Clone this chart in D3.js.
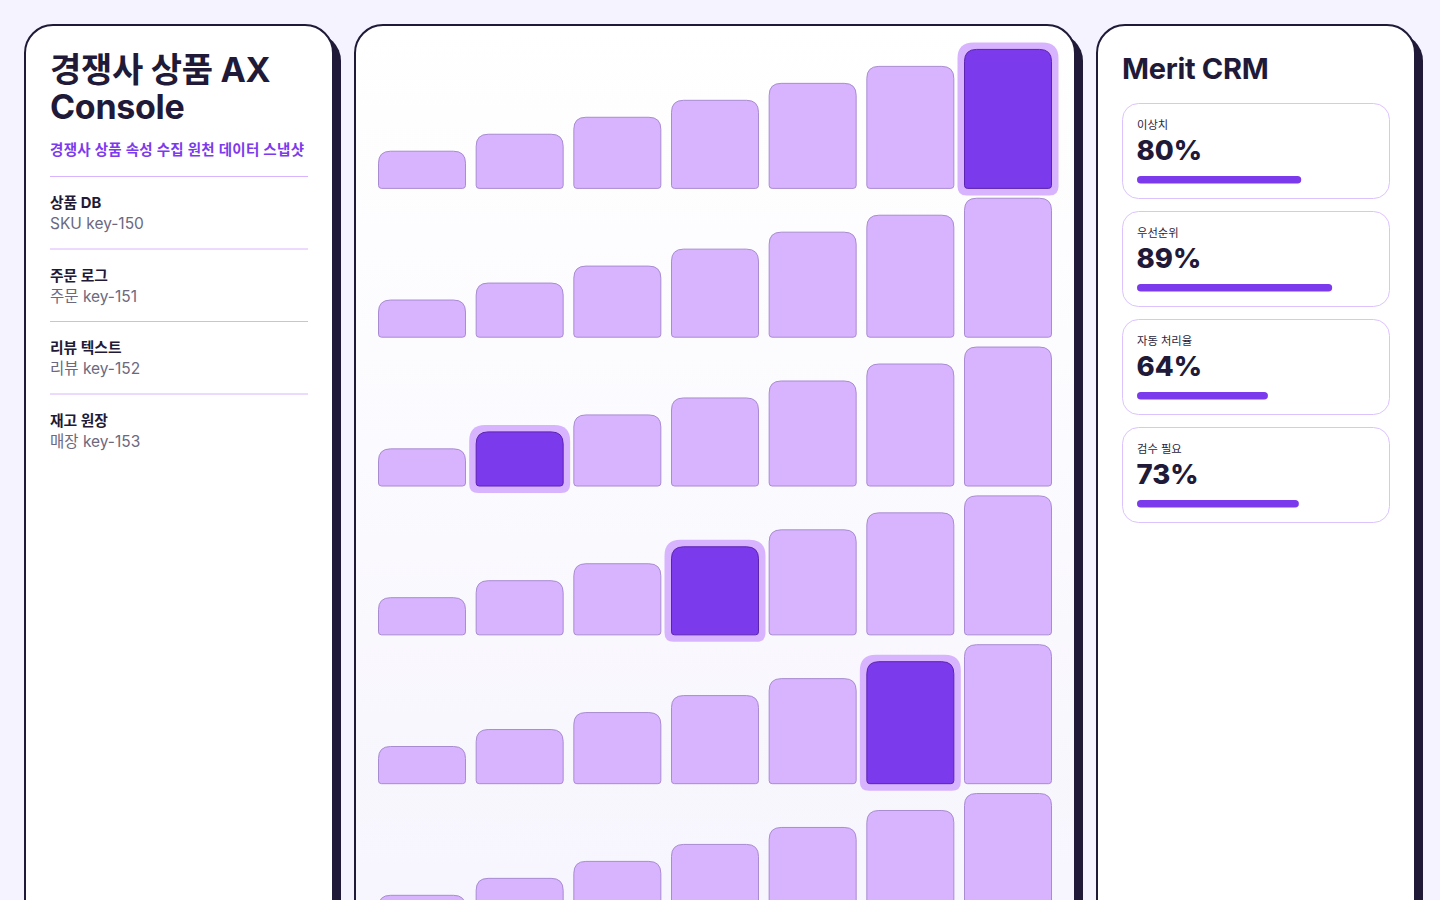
<!DOCTYPE html>
<html lang="ko">
<head>
<meta charset="utf-8">
<title>경쟁사 상품 AX Console</title>
<script src="https://cdn.jsdelivr.net/npm/d3@7"></script>
<style>
  html, body { margin: 0; padding: 0; background: #f5f3ff; overflow: hidden; }
  svg { display: block; font-family: "Inter", "Noto Sans CJK KR", sans-serif; }
</style>
</head>
<body>
<div id="chart"></div>
<script>
// ---- data ----
const titleLines = ["경쟁사 상품 AX", "Console"];
const subtitle = "경쟁사 상품 속성 수집 원천 데이터 스냅샷";
const sourceNames = ["상품 DB", "주문 로그", "리뷰 텍스트", "재고 원장"];
const sourceKeys = ["SKU key-150", "주문 key-151", "리뷰 key-152", "매장 key-153"];

const columns = ["c1", "c2", "c3", "c4", "c5", "c6", "c7"];
const rows = ["r1", "r2", "r3", "r4", "r5", "r6"];
const levels = [27, 39, 51, 63, 75, 87, 99];   // bar height (%) per column, same in every row
const highlights = [[0, 6], [2, 1], [3, 3], [4, 5]]; // [row, column]

const crmTitle = "Merit CRM";
const metricNames = ["이상치", "우선순위", "자동 처리율", "검수 필요"];
const metricValues = [80, 89, 64, 73];
const metricBars = [69, 82, 55, 68];

// ---- colours ----
const ink = "#201a38";
const violet = "#7c3aed";
const lilac = "#d8b4fe";

const W = 1440, H = 900;
const svg = d3.select("#chart").append("svg")
  .attr("width", W)
  .attr("height", H);

const defs = svg.append("defs");
const grad = defs.append("linearGradient")
  .attr("id", "midbg").attr("x1", 0).attr("y1", 0).attr("x2", 0).attr("y2", 1);
grad.append("stop").attr("offset", "0%").attr("stop-color", "#ffffff");
grad.append("stop").attr("offset", "100%").attr("stop-color", "#f6f4fd");

// panels with a hard offset shadow
function panel(x, w, fill) {
  const g = svg.append("g");
  g.append("rect")
    .attr("x", x + 8).attr("y", 33)
    .attr("width", w).attr("height", 960)
    .attr("rx", 28).attr("fill", ink);
  g.append("rect")
    .attr("x", x).attr("y", 25)
    .attr("width", w).attr("height", 960)
    .attr("rx", 28)
    .attr("fill", fill)
    .attr("stroke", ink).attr("stroke-width", 2);
  return g;
}
const left = panel(25, 308, "#ffffff");
const mid = panel(355, 720, "url(#midbg)");
const right = panel(1097, 318, "#ffffff");

// ---- left panel ----
left.selectAll("text.title")
  .data(titleLines)
  .enter().append("text")
  .attr("class", "title")
  .attr("x", 50)
  .attr("y", (d, i) => 82 + i * 37)
  .attr("fill", ink)
  .attr("font-size", 34)
  .attr("font-weight", 700)
  .attr("letter-spacing", -0.3)
  .text(d => d);

left.append("text")
  .attr("x", 50).attr("y", 155)
  .attr("fill", violet)
  .attr("font-size", 14.5)
  .attr("font-weight", 700)
  .attr("letter-spacing", 0.3)
  .text(subtitle);

const itemY = i => 176.5 + i * 72.5;

left.selectAll("line.div")
  .data(sourceNames)
  .enter().append("line")
  .attr("class", "div")
  .attr("x1", 50).attr("x2", 308)
  .attr("y1", (d, i) => itemY(i)).attr("y2", (d, i) => itemY(i))
  .attr("stroke", lilac).attr("stroke-width", 1);

left.selectAll("text.name")
  .data(sourceNames)
  .enter().append("text")
  .attr("class", "name")
  .attr("x", 50)
  .attr("y", (d, i) => itemY(i) + 31.5)
  .attr("fill", ink)
  .attr("font-size", 14.8)
  .attr("font-weight", 700)
  .text(d => d);

left.selectAll("text.key")
  .data(sourceKeys)
  .enter().append("text")
  .attr("class", "key")
  .attr("x", 50)
  .attr("y", (d, i) => itemY(i) + 52.5)
  .attr("fill", "#6b6880")
  .attr("font-size", 15.5)
  .text(d => d);

// ---- middle panel: bar grid ----
const x = d3.scaleBand()
  .domain(columns)
  .range([378, 1052])
  .paddingInner(0.099);

const y = d3.scaleBand()
  .domain(rows)
  .range([47.5, 933])
  .paddingInner(0.05);

const h = d3.scaleLinear()
  .domain([0, 100])
  .range([0, y.bandwidth()]);

function barPath(x0, y0, w, hh, rt, rb) {
  return `M${x0},${y0 + rt}` +
    `Q${x0},${y0} ${x0 + rt},${y0}` +
    `H${x0 + w - rt}` +
    `Q${x0 + w},${y0} ${x0 + w},${y0 + rt}` +
    `V${y0 + hh - rb}` +
    `Q${x0 + w},${y0 + hh} ${x0 + w - rb},${y0 + hh}` +
    `H${x0 + rb}` +
    `Q${x0},${y0 + hh} ${x0},${y0 + hh - rb}Z`;
}

const cells = [];
rows.forEach((r, ri) => {
  columns.forEach((c, ci) => {
    const hot = highlights.some(p => p[0] === ri && p[1] === ci);
    cells.push({ row: r, col: c, value: levels[ci], hot });
  });
});

const clip = defs.append("clipPath").attr("id", "midclip");
clip.append("rect").attr("x", 356).attr("y", 26).attr("width", 718).attr("height", 900);

const grid = mid.append("g").attr("clip-path", "url(#midclip)");

// glow rings behind highlighted bars
grid.selectAll("path.ring")
  .data(cells.filter(d => d.hot))
  .enter().append("path")
  .attr("class", "ring")
  .attr("d", d => {
    const bh = h(d.value);
    const top = y(d.row) + y.bandwidth() - bh;
    return barPath(x(d.col) - 6.5, top - 6.5, x.bandwidth() + 13, bh + 13, 16, 9);
  })
  .attr("fill", lilac);

grid.selectAll("path.bar")
  .data(cells)
  .enter().append("path")
  .attr("class", "bar")
  .attr("d", d => {
    const bh = h(d.value);
    const top = y(d.row) + y.bandwidth() - bh;
    return barPath(x(d.col) + 0.5, top + 0.5, x.bandwidth() - 1, bh - 1, 12, 3);
  })
  .attr("fill", d => d.hot ? violet : lilac)
  .attr("stroke", d => d.hot ? "#5b24b0" : "#a98bd2")
  .attr("stroke-width", 1);

// ---- right panel ----
right.append("text")
  .attr("x", 1122).attr("y", 79)
  .attr("fill", ink)
  .attr("font-size", 29)
  .attr("font-weight", 700)
  .attr("letter-spacing", -0.3)
  .text(crmTitle);

const barW = d3.scaleLinear().domain([0, 100]).range([0, 238]);
const cardY = i => 103.5 + i * 108;

const cards = right.selectAll("g.card")
  .data(metricNames.map((name, i) => ({ name, value: metricValues[i], bar: metricBars[i] })))
  .enter().append("g")
  .attr("class", "card")
  .attr("transform", (d, i) => `translate(1122.5, ${cardY(i)})`);

cards.append("rect")
  .attr("width", 267).attr("height", 95)
  .attr("rx", 16)
  .attr("fill", "#ffffff")
  .attr("stroke", "#dcc3fd").attr("stroke-width", 1);

cards.append("text")
  .attr("x", 14.5).attr("y", 25.5)
  .attr("fill", "#2a2540")
  .attr("font-size", 11.3)
  .text(d => d.name);

cards.append("text")
  .attr("x", 14).attr("y", 56.5)
  .attr("fill", ink)
  .attr("font-size", 27.5)
  .attr("font-weight", 800)
  .text(d => d.value + "%");

cards.append("rect")
  .attr("x", 14.5).attr("y", 72.5)
  .attr("width", d => barW(d.bar))
  .attr("height", 7.5)
  .attr("rx", 3.75)
  .attr("fill", violet);
</script>
</body>
</html>
